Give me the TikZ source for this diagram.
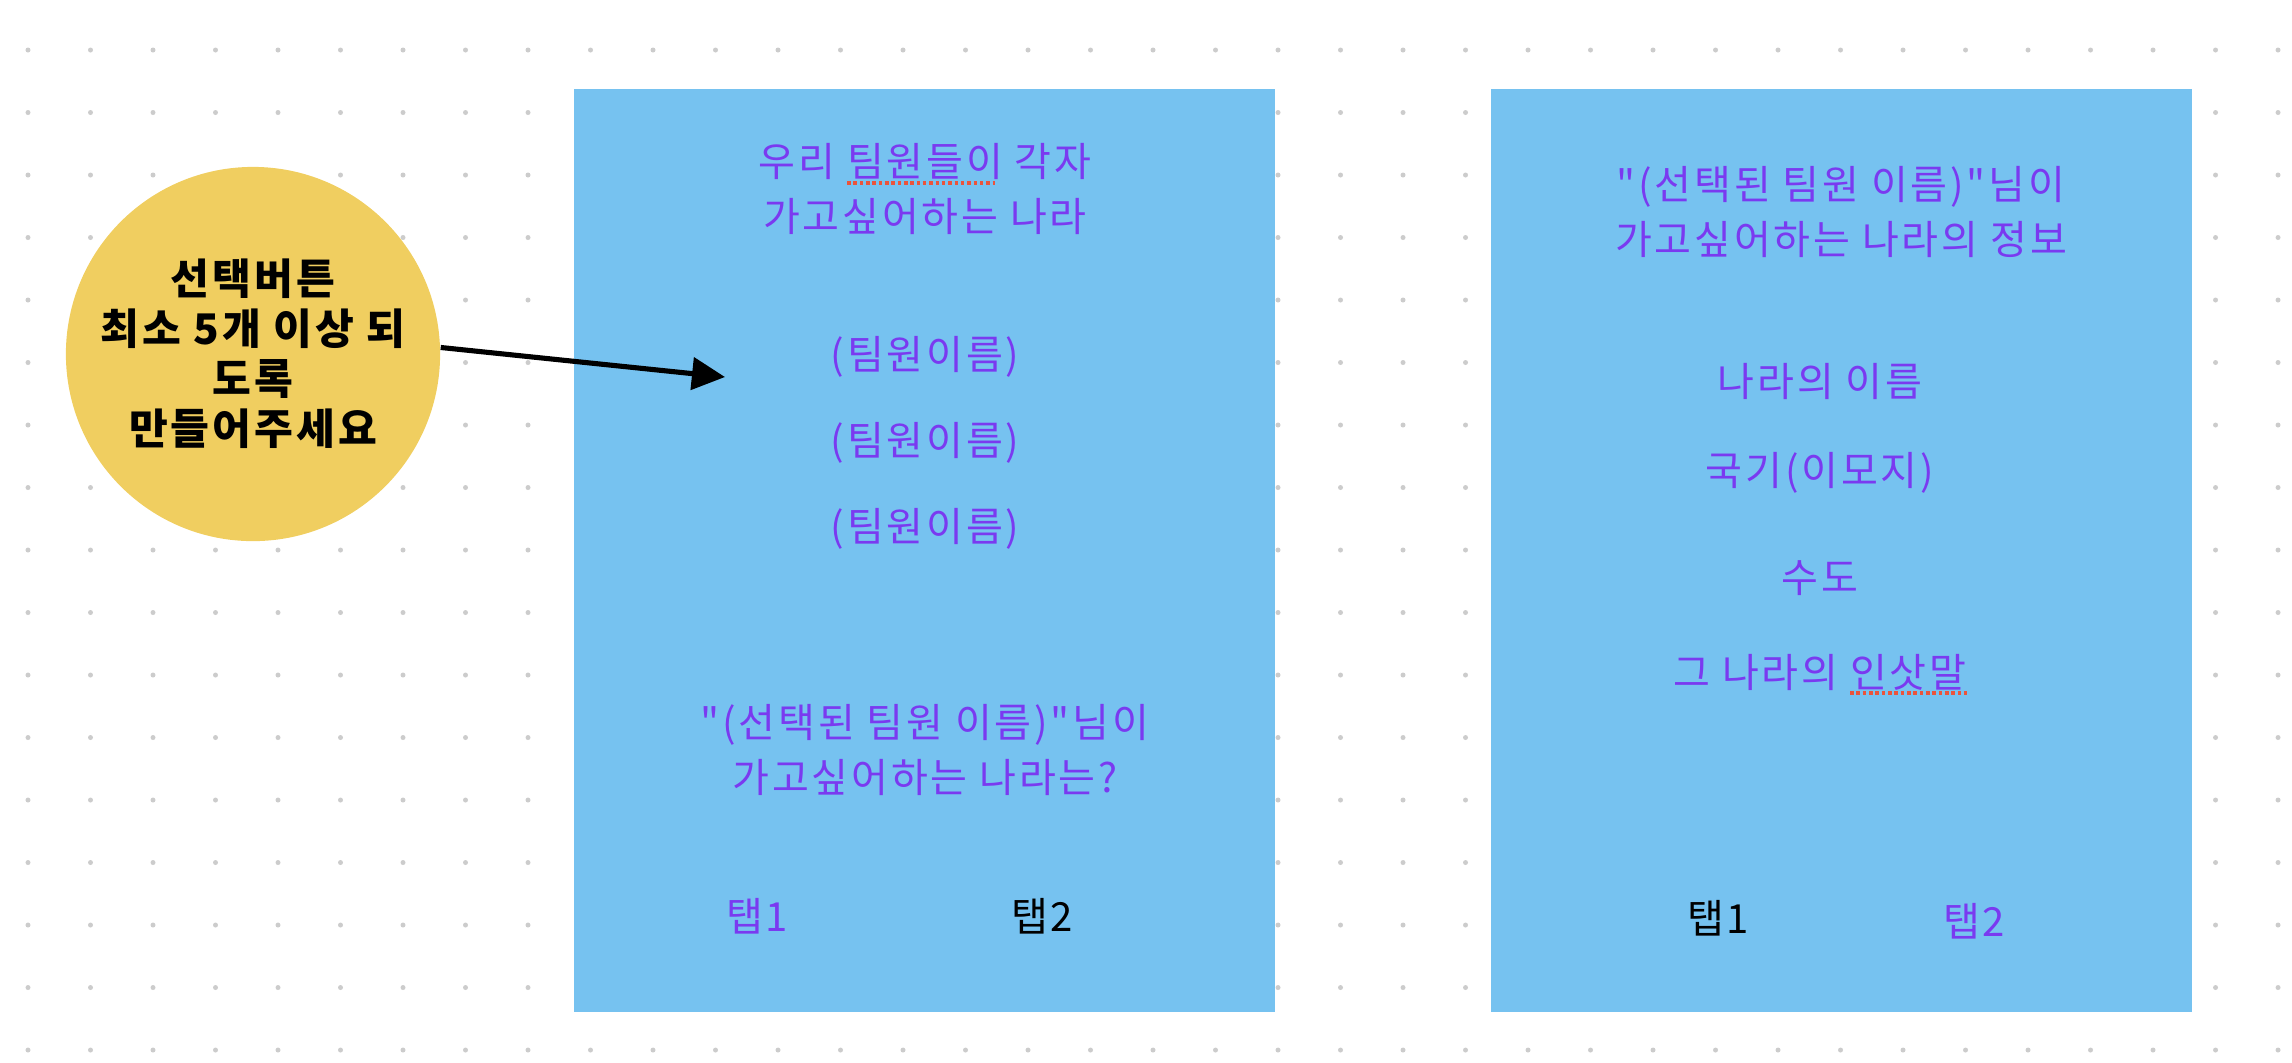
\documentclass[tikz,border=0pt]{standalone}
\usepackage{fontspec}
\newfontfamily\kofont{Noto Sans CJK KR}[LetterSpace=7]
\usepackage{tikz}
\usetikzlibrary{arrows.meta, positioning}

\definecolor{screenblue}{RGB}{118,194,240}
\definecolor{inkpurple}{RGB}{122,58,240}
\definecolor{bubbleyellow}{RGB}{240,206,96}
\definecolor{dotgrey}{RGB}{204,204,204}
\definecolor{spellred}{RGB}{234,84,60}

\tikzset{
    screen/.style={fill=screenblue, draw=none, minimum width=7.01cm, minimum height=9.23cm, inner sep=0},
    bubble/.style={circle, fill=bubbleyellow, minimum size=3.74cm, inner sep=0},
    label/.style={text=inkpurple, font=\kofont\fontsize{11.4pt}{15.4pt}\selectfont, align=center, inner sep=0},
    tabon/.style={label, text=black},
    spell/.style={spellred, line width=1.2pt, dash pattern=on 1pt off 0.8pt}
}

\begin{document}
\begin{tikzpicture}[x=0.01cm, y=-0.01cm, >={Triangle[length=0.33cm, width=0.32cm]}]
    \useasboundingbox (0,0) rectangle (2292,1062);
    % dotted canvas
    \foreach \i in {0,...,36}
        \foreach \j in {0,...,16}
            \fill[dotgrey] (28+62.5*\i, 50+62.5*\j) circle (0.025cm);

    \node[screen] (left) at (924.5,550.5) {};
    \node[screen] (right) at (1841.5,550.5) {};
    \node[bubble, align=center, font=\kofont\fontsize{12pt}{14.2pt}\selectfont\bfseries] (circ) at (253,354)
        {선택버튼\\최소 5개 이상 되\\도록\\만들어주세요};

    % left screen
    \node[label] (ltitle) at (925,189) {우리 팀원들이 각자\\가고싶어하는 나라};
    \node[label] (name1) at (925,357) {(팀원이름)};
    \node[label] (name2) at (925,443) {(팀원이름)};
    \node[label] (name3) at (925,529) {(팀원이름)};
    \node[label] (ask) at (925,750) {"(선택된 팀원 이름)"님이\\가고싶어하는 나라는?};
    \node[label] (ltab1) at (757,916) {탭1};
    \node[tabon] (ltab2) at (1042,916) {탭2};
    \draw[spell] (847,183) -- (995,183);

    % right screen
    \node[label] (rtitle) at (1841,212) {"(선택된 팀원 이름)"님이\\가고싶어하는 나라의 정보};
    \node[label] (country) at (1820,381) {나라의 이름};
    \node[label] (flag) at (1820,473) {국기(이모지)};
    \node[label] (capital) at (1820,578) {수도};
    \node[label] (hello) at (1820,672) {그 나라의 인삿말};
    \node[tabon] (rtab1) at (1718,918) {탭1};
    \node[label] (rtab2) at (1974,921) {탭2};
    \draw[spell] (1850,693) -- (1967,693);

    \coordinate (tip) at (725,377);
    \draw[->, line width=1.45pt] (circ.2) -- (tip);
\end{tikzpicture}
\end{document}
